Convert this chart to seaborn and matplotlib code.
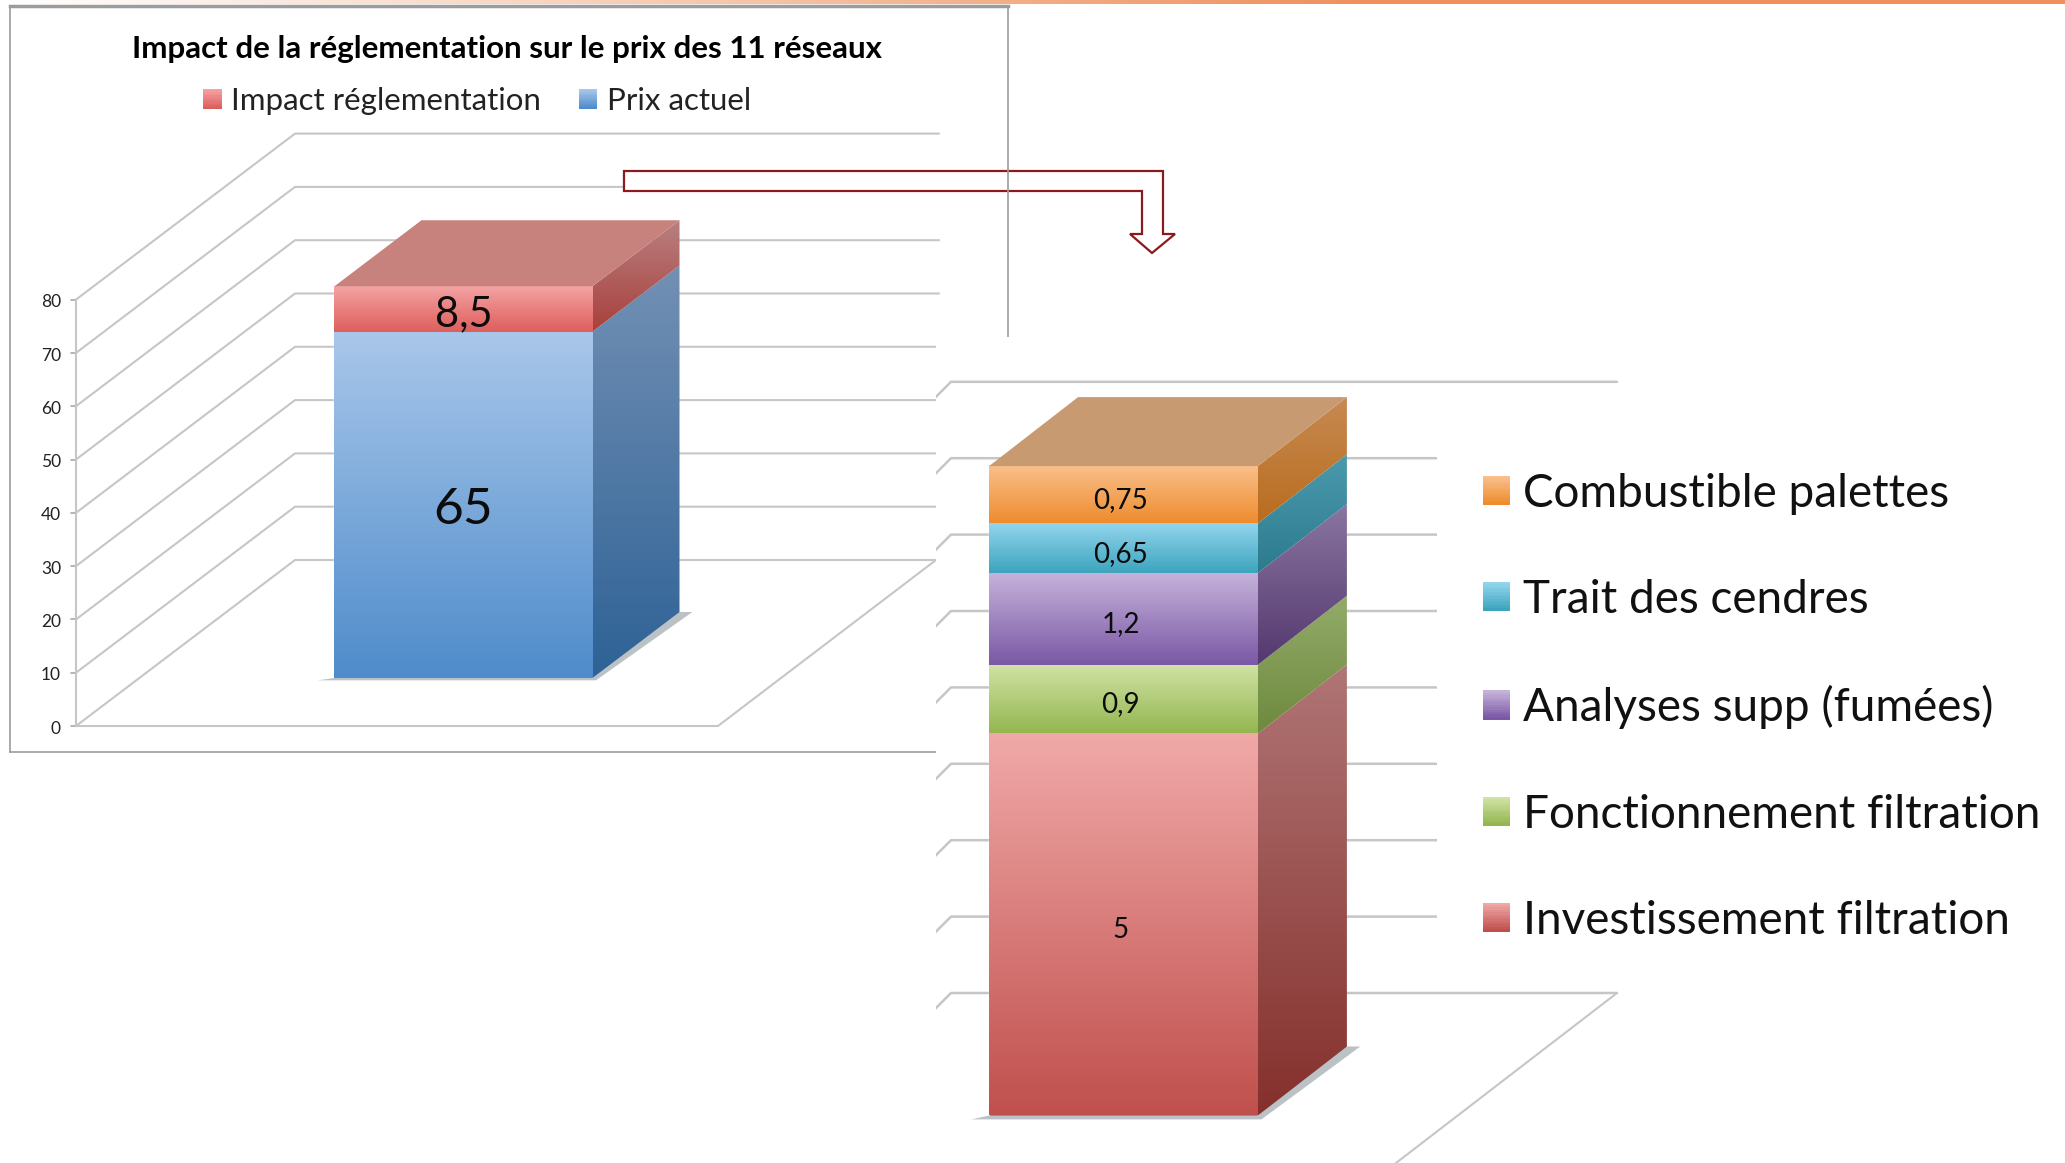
import numpy as np
import matplotlib
matplotlib.use('Agg')
import matplotlib.pyplot as plt
import seaborn as sns
from matplotlib.colors import LinearSegmentedColormap
from matplotlib.legend_handler import HandlerBase
from matplotlib.patches import Patch, Polygon, Rectangle

# left chart
left_title = 'Impact de la réglementation sur le prix des 11 réseaux'
left_names = ['Prix actuel', 'Impact réglementation']
left_values = [65, 8.5]
left_ticks = [0, 10, 20, 30, 40, 50, 60, 70, 80]
left_front = [('#a9c7ea', '#4f8ccb'), ('#f4a3a3', '#dd5f5c')]
left_side = [('#7390b4', '#2e6296'), ('#b98080', '#a8403c')]
left_top = '#c7827d'

# right chart
right_names = ['Investissement filtration', 'Fonctionnement filtration',
               'Analyses supp (fumées)', 'Trait des cendres', 'Combustible palettes']
right_values = [5, 0.9, 1.2, 0.65, 0.75]
right_ticks = [0, 1, 2, 3, 4, 5, 6, 7, 8]
right_front = [('#f0a9a8', '#c0504d'), ('#d0e3a5', '#94b650'), ('#c5b2da', '#7a58a5'),
               ('#93d5ee', '#3da4bd'), ('#f9c08c', '#ee8c2e')]
right_side = [('#b07575', '#85302c'), ('#93ab6a', '#6e8a3e'), ('#8a75a0', '#54386f'),
              ('#4a9aad', '#2d7a8e'), ('#c78a52', '#b96c1e')]
right_top = '#c89a72'

W, H = 2065, 1163
GRID = '#c6c6c6'
RED_LINE = '#8b1a1f'

sns.set_theme(style='white')
plt.rcParams['font.family'] = ['Lato', 'DejaVu Sans']

fig = plt.figure(figsize=(W / 100, H / 100), dpi=100, facecolor='white')


def px_axes(x0, y0, x1, y1, zorder):
    return fig.add_axes([x0 / W, 1 - y1 / H, (x1 - x0) / W, (y1 - y0) / H], zorder=zorder)


def gradient(ax, extent, top, bottom, clip=None):
    cmap = LinearSegmentedColormap.from_list('g', [top, bottom])
    im = ax.imshow(np.linspace(0, 1, 128).reshape(-1, 1), cmap=cmap, aspect='auto',
                   extent=extent, origin='upper', interpolation='bilinear', zorder=4)
    if clip is not None:
        im.set_clip_path(clip)


def draw_stack(ax, values, front, side, top_col, dx, dy, font_sizes, text_dx, text_dy):
    bottoms = [sum(values[:i]) for i in range(len(values))]
    for i, val in enumerate(values):
        sns.barplot(x=['réseaux'], y=[val], bottom=bottoms[i], width=0.6, color=front[i][1],
                    saturation=1, ax=ax)
    bars = [c[0] for c in ax.containers]
    first = bars[0]
    x0, x1 = first.get_x(), first.get_x() + first.get_width()
    ymax = sum(values)
    # shadow on the floor
    ax.add_patch(Polygon([(x0 - 0.04, -ymax * 0.006), (x1 + 0.008, -ymax * 0.006),
                          (x1 + dx + 0.03, dy), (x1 + dx - 0.01, dy), (x1, 0), (x0, 0)],
                         fc='#8f9a9f', ec='none', alpha=0.6, zorder=3))
    for i, bar in enumerate(bars):
        y0, y1 = bar.get_y(), bar.get_y() + bar.get_height()
        gradient(ax, (x0, x1, y0, y1), front[i][0], front[i][1])
        poly = Polygon([(x1, y0), (x1 + dx, y0 + dy), (x1 + dx, y1 + dy), (x1, y1)],
                       fc='none', ec='none')
        ax.add_patch(poly)
        gradient(ax, (x1, x1 + dx, y0, y1 + dy), side[i][0], side[i][1], clip=poly)
        label = f'{values[i]:g}'.replace('.', ',')
        ax.text((x0 + x1) / 2 + text_dx, (y0 + y1) / 2 + text_dy, label, ha='center', va='center',
                fontsize=font_sizes[i], color='#0c0c0c', zorder=6)
    ax.add_patch(Polygon([(x0, ymax), (x0 + dx, ymax + dy), (x1 + dx, ymax + dy), (x1, ymax)],
                         fc=top_col, ec='none', zorder=5))


class GradientHandle(HandlerBase):
    def __init__(self, top, bottom):
        super().__init__()
        self.cmap = LinearSegmentedColormap.from_list('h', [top, bottom])

    def create_artists(self, legend, orig_handle, xd, yd, width, height, fontsize, trans):
        artists = []
        for k in range(12):
            artists.append(Rectangle((-xd, -yd + height * (11 - k) / 12), width, height / 12 + 0.3,
                                     fc=self.cmap(k / 11), ec='none', transform=trans))
        return artists


def gradient_legend(ax, names, colors, **kw):
    handles = [Patch(label=n) for n in names]
    hmap = {h: GradientHandle(*c) for h, c in zip(handles, colors)}
    return ax.legend(handles=handles, handler_map=hmap, **kw)


# ---- left chart ----
ax1 = px_axes(10, 6, 1008, 752, 1)
cx, xs, base, unit = 463.5, 430.0, 678.0, 5.33
xd = lambda p: (p - cx) / xs
yd = lambda p: (base - p) / unit

draw_stack(ax1, left_values, left_front, left_side, left_top,
           87 / xs, 66 / unit, [37, 30], 0, -1.0)

back_shift = yd(560)
front_shift = yd(726)
for t in left_ticks:
    ax1.plot([xd(76), xd(295), xd(939)], [t + front_shift, t + back_shift, t + back_shift],
             color=GRID, lw=1.5, zorder=0.5)
    ax1.plot([xd(71), xd(76)], [t + front_shift] * 2, color='#a8a8a8', lw=1.2, zorder=0.5)
    ax1.text(xd(61), t + front_shift - 0.5, str(t), ha='right', va='center', fontsize=12.5,
             color='#222222')
ax1.plot([xd(76), xd(76)], [front_shift, left_ticks[-1] + front_shift], color=GRID, lw=1.5, zorder=0.5)
ax1.plot([xd(76), xd(718), xd(936)], [front_shift, front_shift, back_shift], color=GRID, lw=1.5, zorder=0.5)

ax1.text(xd(507), yd(49), left_title, ha='center', va='center', fontsize=22.5,
         fontweight='bold', color='black')
gradient_legend(ax1, left_names[::-1], left_front[::-1], ncol=2, loc='center',
                bbox_to_anchor=(477 / W, 1 - 101 / H), bbox_transform=fig.transFigure,
                frameon=False, fontsize=22.5, handlelength=0.6, handleheight=0.6,
                handletextpad=0.3, columnspacing=1.2, labelcolor='#222222')

ax1.set_xlim(xd(10), xd(1008))
ax1.set_ylim(yd(752), yd(6))
ax1.set_xticks([])
ax1.set_yticks([])
ax1.set_xlabel('')
ax1.set_ylabel('')
for sp in ax1.spines.values():
    sp.set_color('#9c9c9c')
    sp.set_linewidth(1.2)
ax1.spines['top'].set_linewidth(2.5)

# arrow between the two charts
arrow_px = [(624, 171), (1163, 171), (1163, 234), (1175, 234), (1152, 253), (1130, 234),
            (1142, 234), (1142, 191), (624, 191)]
ax1.add_patch(Polygon([(x / W, 1 - y / H) for x, y in arrow_px], closed=True, fc='white',
                      ec=RED_LINE, lw=1.6, transform=fig.transFigure, clip_on=False, zorder=2))

# ---- right chart ----
ax2 = px_axes(936, 337, 2065, 1163, 2)
ax2.set_facecolor('white')
cx, xs, base, unit = 1123.5, 448.0, 1115.5, 76.4

draw_stack(ax2, right_values, right_front, right_side, right_top,
           89 / xs, 69 / unit, [20, 20, 20, 20, 20], -0.006, -0.07)

back_shift = yd(993)
front_shift = yd(1163)
for t in right_ticks:
    ax2.plot([xd(951 - 170), xd(951), xd(1617)], [t + front_shift, t + back_shift, t + back_shift],
             color=GRID, lw=1.8, zorder=0.5)
ax2.plot([xd(1617), xd(1396)], [back_shift, front_shift], color=GRID, lw=1.5, zorder=0.5)

leg = gradient_legend(ax2, right_names[::-1], right_front[::-1], loc='upper left',
                      bbox_to_anchor=(1437 / W, 1 - 427 / H), bbox_transform=fig.transFigure,
                      borderaxespad=0, borderpad=1, frameon=True, facecolor='white', framealpha=1,
                      edgecolor='none', fancybox=False, fontsize=33, handlelength=0.59,
                      handleheight=0.59, handletextpad=0.29, labelspacing=1.4, labelcolor='#111111')
leg.set_zorder(3)

ax2.set_xlim(xd(936), xd(2065))
ax2.set_ylim(yd(1163), yd(337))
ax2.set_xticks([])
ax2.set_yticks([])
ax2.set_xlabel('')
ax2.set_ylabel('')
sns.despine(ax=ax2, left=True, bottom=True)

# orange band along the top edge of the page
band = fig.add_axes([0, 1 - 4 / H, 1, 4 / H], zorder=3)
band.imshow(np.linspace(0, 1, 256).reshape(1, -1), aspect='auto', interpolation='bilinear',
            cmap=LinearSegmentedColormap.from_list('b', ['#ffffff', '#f6c9ae', '#ee8f5c', '#ee8f5c']))
band.axis('off')

fig.savefig('out.png', dpi=100)
